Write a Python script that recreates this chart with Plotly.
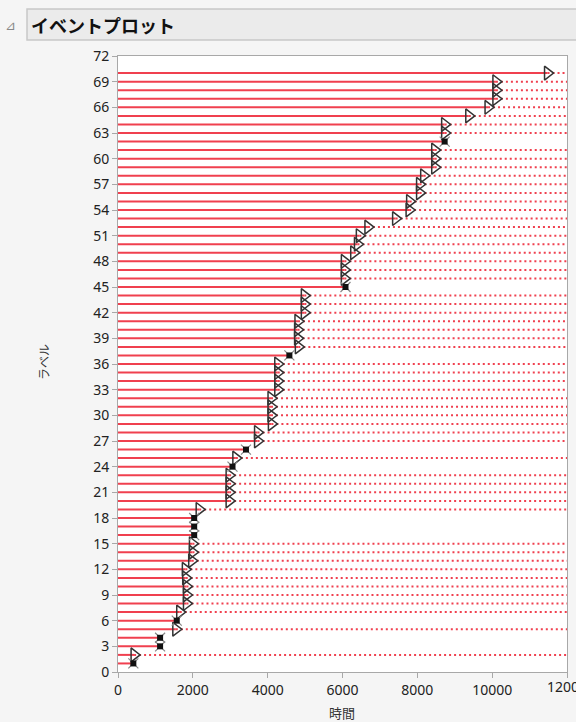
"""
Event plot (JMP style): time per label, censored vs event
"""
import plotly.graph_objects as go

# ---- data ----
labels = list(range(1, 71))
times = [
    410, 430, 1125, 1125, 1545, 1570, 1650, 1830, 1830, 1830,
    1810, 1800, 1970, 1990, 1990, 2036, 2036, 2036, 2170, 2970,
    2970, 2970, 2970, 3060, 3150, 3420, 3730, 3730, 4100, 4090,
    4090, 4090, 4270, 4270, 4270, 4270, 4580, 4820, 4800, 4800,
    4810, 4980, 4980, 4980, 6080, 6050, 6050, 6050, 6300, 6400,
    6450, 6680, 7420, 7780, 7795, 8060, 8060, 8170, 8465, 8465,
    8465, 8730, 8730, 8730, 9375, 9890, 10100, 10100, 10100, 11480,
]
# 1 = event (failure), 0 = censored
events = [
    1, 0, 1, 1, 0, 1, 0, 0, 0, 0,
    0, 0, 0, 0, 0, 1, 1, 1, 0, 0,
    0, 0, 0, 1, 0, 1, 0, 0, 0, 0,
    0, 0, 0, 0, 0, 0, 1, 0, 0, 0,
    0, 0, 0, 0, 1, 0, 0, 0, 0, 0,
    0, 0, 0, 0, 0, 0, 0, 0, 0, 0,
    0, 1, 0, 0, 0, 0, 0, 0, 0, 0,
]
x_max = 12000
y_max = 72
x_ticks = [0, 2000, 4000, 6000, 8000, 10000, 12000]
x_ticktext = [str(v) for v in x_ticks]
y_ticks = list(range(0, 73, 3))

# ---- geometry (pixels) ----
W, H = 576, 722
L, R, T, B = 118, 9, 56, 50
pw, ph = W - L - R, H - T - B


def px(x):
    return (x - L) / pw


def py(y):
    return (H - B - y) / ph


RED = "#f0404f"

# solid segments 0 -> time, dotted segments time -> right edge for censored
sx, sy, dx, dy = [], [], [], []
for lab, t, e in zip(labels, times, events):
    sx += [0, t, None]
    sy += [lab, lab, None]
    if not e:
        dx += [t, x_max, None]
        dy += [lab, lab, None]

fig = go.Figure()
fig.add_trace(go.Scatter(x=sx, y=sy, mode="lines",
                         line=dict(color=RED, width=2), hoverinfo="skip"))
fig.add_trace(go.Scatter(x=dx, y=dy, mode="lines",
                         line=dict(color=RED, width=2, dash="2px,3px"), hoverinfo="skip"))

cx = [t for t, e in zip(times, events) if not e]
cy = [l for l, e in zip(labels, events) if not e]
ex = [t for t, e in zip(times, events) if e]
ey = [l for l, e in zip(labels, events) if e]

fig.add_trace(go.Scatter(x=cx, y=cy, mode="markers",
                         marker=dict(symbol="triangle-right-open", size=12,
                                     color="#333333", line=dict(width=1.5))))
fig.add_trace(go.Scatter(x=ex, y=ey, mode="markers",
                         marker=dict(symbol="x-thin-open", size=10,
                                     color="#888888", line=dict(width=1.2))))
fig.add_trace(go.Scatter(x=ex, y=ey, mode="markers",
                         marker=dict(symbol="square", size=6, color="#111111",
                                     line=dict(width=0))))

tick_font = dict(family="Noto Sans, Open Sans, sans-serif", size=14, color="#222222")

fig.update_layout(
    width=W, height=H,
    margin=dict(l=L, r=R, t=T, b=B, autoexpand=False),
    paper_bgcolor="#f5f5f5",
    plot_bgcolor="white",
    showlegend=False,
    xaxis=dict(range=[0, x_max], tickvals=x_ticks, ticktext=x_ticktext,
               showgrid=False, zeroline=False, automargin=False,
               showline=True, linecolor="#a8a8a8", mirror=True, ticks="outside",
               ticklen=5, tickcolor="#a8a8a8", tickfont=tick_font),
    yaxis=dict(range=[0, y_max], tickvals=y_ticks, showgrid=False, zeroline=False,
               automargin=False,
               showline=True, linecolor="#a8a8a8", mirror=True, ticks="outside",
               ticklen=5, tickcolor="#a8a8a8", tickfont=tick_font),
)

# last x tick label gets dropped by plotly (overflows the page); draw it by hand
fig.add_annotation(xref="x", yref="paper", x=x_ticks[-1], y=py(686),
                   text=x_ticktext[-1], showarrow=False,
                   xanchor="center", yanchor="middle", font=tick_font)

# title bar
fig.add_shape(type="rect", xref="paper", yref="paper",
              x0=px(27), x1=px(577), y0=py(40), y1=py(9),
              fillcolor="#ebebeb", line=dict(color="#c8c8c8", width=1.5))
fig.add_annotation(xref="paper", yref="paper", x=px(3), y=py(25),
                   text="⊿", showarrow=False, xanchor="left", yanchor="middle",
                   font=dict(size=13, color="#888888", family="DejaVu Sans"))
fig.add_annotation(xref="paper", yref="paper", x=px(29), y=py(25),
                   text="<b>イベントプロット</b>", showarrow=False,
                   xanchor="left", yanchor="middle",
                   font=dict(size=18, color="#111111", family="Noto Sans CJK JP"))

# axis titles
fig.add_annotation(xref="paper", yref="paper", x=px(43), y=py(362),
                   text="ラベル", textangle=-90, showarrow=False,
                   xanchor="center", yanchor="middle",
                   font=dict(size=12, color="#333333", family="Noto Sans CJK JP"))
fig.add_annotation(xref="paper", yref="paper", x=px(342), y=py(712),
                   text="時間", showarrow=False, xanchor="center", yanchor="middle",
                   font=dict(size=13, color="#333333", family="Noto Sans CJK JP"))

# page body has a default 8px margin; remove it so the figure fills the window
fig.write_html("out.html",
               config={"displayModeBar": False},
               post_script="document.body.style.margin='0';"
                           "document.body.style.overflow='hidden';")
